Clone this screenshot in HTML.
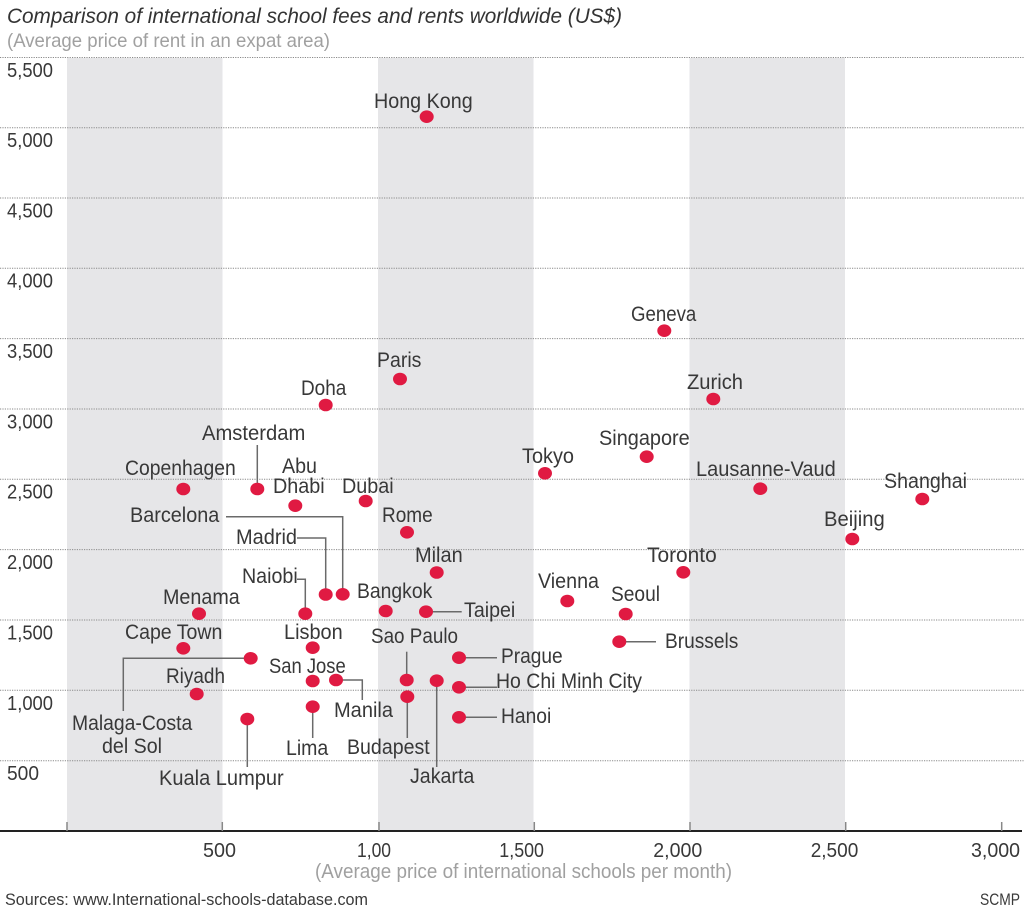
<!DOCTYPE html>
<html>
<head>
<meta charset="utf-8">
<style>
  html,body{margin:0;padding:0;background:#fff;}
  svg{display:block;}
  text{font-family:"Liberation Sans",sans-serif;fill:#383838;}
  .lbl{font-size:21px;}
  .ax{font-size:20.5px;}
  .lead{stroke:#6a6a6a;stroke-width:1.5;fill:none;}
  .dot{fill:#e01a42;}
  .grid{stroke:#8a8a8a;stroke-width:1;stroke-dasharray:1.2,1.2;}
</style>
</head>
<body>
<svg width="1024" height="913" viewBox="0 0 1024 913" xmlns="http://www.w3.org/2000/svg">
  <!-- bands -->
  <rect x="67" y="58" width="155.5" height="773" fill="#e6e6e8"/>
  <rect x="378" y="58" width="155.5" height="773" fill="#e6e6e8"/>
  <rect x="689.5" y="58" width="155.5" height="773" fill="#e6e6e8"/>

  <!-- gridlines -->
  <g class="grid">
    <line x1="0" x2="1024" y1="57.5" y2="57.5"/>
    <line x1="0" x2="1024" y1="127.7" y2="127.7"/>
    <line x1="0" x2="1024" y1="198" y2="198"/>
    <line x1="0" x2="1024" y1="268.3" y2="268.3"/>
    <line x1="0" x2="1024" y1="338.6" y2="338.6"/>
    <line x1="0" x2="1024" y1="409" y2="409"/>
    <line x1="0" x2="1024" y1="479.3" y2="479.3"/>
    <line x1="0" x2="1024" y1="549.6" y2="549.6"/>
    <line x1="0" x2="1024" y1="620" y2="620"/>
    <line x1="0" x2="1024" y1="690.3" y2="690.3"/>
    <line x1="0" x2="1024" y1="760.7" y2="760.7"/>
  </g>

  <!-- y labels -->
  <g class="ax">
    <text x="7" y="77" textLength="46" lengthAdjust="spacingAndGlyphs">5,500</text>
    <text x="7" y="147" textLength="46" lengthAdjust="spacingAndGlyphs">5,000</text>
    <text x="7" y="217.5" textLength="46" lengthAdjust="spacingAndGlyphs">4,500</text>
    <text x="7" y="287.5" textLength="46" lengthAdjust="spacingAndGlyphs">4,000</text>
    <text x="7" y="358" textLength="46" lengthAdjust="spacingAndGlyphs">3,500</text>
    <text x="7" y="428.5" textLength="46" lengthAdjust="spacingAndGlyphs">3,000</text>
    <text x="7" y="498.5" textLength="46" lengthAdjust="spacingAndGlyphs">2,500</text>
    <text x="7" y="569" textLength="46" lengthAdjust="spacingAndGlyphs">2,000</text>
    <text x="7" y="639.5" textLength="46" lengthAdjust="spacingAndGlyphs">1,500</text>
    <text x="7" y="710" textLength="46" lengthAdjust="spacingAndGlyphs">1,000</text>
    <text x="7" y="780" textLength="32" lengthAdjust="spacingAndGlyphs">500</text>
  </g>

  <!-- axis -->
  <line x1="0" x2="1022" y1="831" y2="831" stroke="#222" stroke-width="2"/>
  <g stroke="#888" stroke-width="1.5">
    <line x1="67" x2="67" y1="822" y2="831"/>
    <line x1="222.3" x2="222.3" y1="822" y2="831"/>
    <line x1="379" x2="379" y1="822" y2="831"/>
    <line x1="534.3" x2="534.3" y1="822" y2="831"/>
    <line x1="690" x2="690" y1="822" y2="831"/>
    <line x1="845.7" x2="845.7" y1="822" y2="831"/>
    <line x1="1001.7" x2="1001.7" y1="822" y2="831"/>
  </g>
  <g class="ax">
    <text x="203" y="857" textLength="33" lengthAdjust="spacingAndGlyphs">500</text>
    <text x="357" y="857" textLength="34" lengthAdjust="spacingAndGlyphs">1,00</text>
    <text x="499.3" y="857" textLength="44.7" lengthAdjust="spacingAndGlyphs">1,500</text>
    <text x="653.3" y="857" textLength="49" lengthAdjust="spacingAndGlyphs">2,000</text>
    <text x="810.7" y="857" textLength="47.6" lengthAdjust="spacingAndGlyphs">2,500</text>
    <text x="971" y="857" textLength="49" lengthAdjust="spacingAndGlyphs">3,000</text>
  </g>
  <text x="315" y="878" font-size="20" style="fill:#a0a0a0" textLength="417" lengthAdjust="spacingAndGlyphs">(Average price of international schools per month)</text>

  <!-- title -->
  <text x="7" y="23" font-size="21.5" font-style="italic" style="fill:#333" textLength="615" lengthAdjust="spacingAndGlyphs">Comparison of international school fees and rents worldwide (US$)</text>
  <text x="7" y="47" font-size="19.5" style="fill:#a0a0a0" textLength="323" lengthAdjust="spacingAndGlyphs">(Average price of rent in an expat area)</text>

  <!-- footer -->
  <text x="5" y="905" font-size="17" style="fill:#3a3a3a" textLength="363" lengthAdjust="spacingAndGlyphs">Sources: www.International-schools-database.com</text>
  <text x="980" y="905" font-size="17" style="fill:#3a3a3a" textLength="40" lengthAdjust="spacingAndGlyphs">SCMP</text>

  <!-- leader lines -->
  <g class="lead">
    <path d="M257.3 489 V445"/>
    <path d="M226 516.7 H342.7 V594"/>
    <path d="M297 538 H325.7 V594"/>
    <path d="M297 579.3 H305.3 V613"/>
    <path d="M426 611.7 H461.7"/>
    <path d="M619 641.7 H656"/>
    <path d="M406.7 651.7 V680"/>
    <path d="M459 657.7 H497"/>
    <path d="M250.7 658.3 H123.3 V711"/>
    <path d="M336 680 H362.3 V700"/>
    <path d="M436.7 680.7 V767"/>
    <path d="M459 687.3 H497"/>
    <path d="M407.3 696.7 V738"/>
    <path d="M312.7 706.7 V738"/>
    <path d="M459 717.3 H497"/>
    <path d="M247.3 719 V767"/>
  </g>

  <!-- dots -->
  <g class="dot">
    <ellipse cx="426.7" cy="116.7" rx="7" ry="6.3"/>
    <ellipse cx="664.3" cy="330.7" rx="7" ry="6.3"/>
    <ellipse cx="400" cy="379" rx="7" ry="6.3"/>
    <ellipse cx="713.3" cy="399" rx="7" ry="6.3"/>
    <ellipse cx="325.7" cy="405" rx="7" ry="6.3"/>
    <ellipse cx="646.7" cy="456.7" rx="7" ry="6.3"/>
    <ellipse cx="545" cy="473.3" rx="7" ry="6.3"/>
    <ellipse cx="183.3" cy="489" rx="7" ry="6.3"/>
    <ellipse cx="257.3" cy="489" rx="7" ry="6.3"/>
    <ellipse cx="760.3" cy="488.7" rx="7" ry="6.3"/>
    <ellipse cx="922.3" cy="499" rx="7" ry="6.3"/>
    <ellipse cx="365.7" cy="501" rx="7" ry="6.3"/>
    <ellipse cx="295.3" cy="505.7" rx="7" ry="6.3"/>
    <ellipse cx="407" cy="532.3" rx="7" ry="6.3"/>
    <ellipse cx="852.3" cy="539" rx="7" ry="6.3"/>
    <ellipse cx="436.7" cy="572.5" rx="7" ry="6.3"/>
    <ellipse cx="683.3" cy="572.3" rx="7" ry="6.3"/>
    <ellipse cx="325.7" cy="594.5" rx="7" ry="6.3"/>
    <ellipse cx="342.7" cy="594.3" rx="7" ry="6.3"/>
    <ellipse cx="567.3" cy="601" rx="7" ry="6.3"/>
    <ellipse cx="385.7" cy="611" rx="7" ry="6.3"/>
    <ellipse cx="426" cy="611.7" rx="7" ry="6.3"/>
    <ellipse cx="305.3" cy="613.7" rx="7" ry="6.3"/>
    <ellipse cx="199" cy="613.7" rx="7" ry="6.3"/>
    <ellipse cx="625.7" cy="614" rx="7" ry="6.3"/>
    <ellipse cx="619.3" cy="641.7" rx="7" ry="6.3"/>
    <ellipse cx="183.3" cy="648.3" rx="7" ry="6.3"/>
    <ellipse cx="312.7" cy="647.7" rx="7" ry="6.3"/>
    <ellipse cx="459" cy="657.7" rx="7" ry="6.3"/>
    <ellipse cx="250.7" cy="658.3" rx="7" ry="6.3"/>
    <ellipse cx="312.7" cy="681" rx="7" ry="6.3"/>
    <ellipse cx="336" cy="680" rx="7" ry="6.3"/>
    <ellipse cx="406.7" cy="680" rx="7" ry="6.3"/>
    <ellipse cx="436.7" cy="680.7" rx="7" ry="6.3"/>
    <ellipse cx="459" cy="687.3" rx="7" ry="6.3"/>
    <ellipse cx="196.7" cy="694" rx="7" ry="6.3"/>
    <ellipse cx="407.3" cy="696.7" rx="7" ry="6.3"/>
    <ellipse cx="312.7" cy="706.7" rx="7" ry="6.3"/>
    <ellipse cx="459" cy="717.3" rx="7" ry="6.3"/>
    <ellipse cx="247.3" cy="719" rx="7" ry="6.3"/>
  </g>

  <!-- labels -->
  <g class="lbl">
    <text x="374" y="108" textLength="98.7" lengthAdjust="spacingAndGlyphs">Hong Kong</text>
    <text x="631" y="321" textLength="65.3" lengthAdjust="spacingAndGlyphs">Geneva</text>
    <text x="377" y="367" textLength="44.4" lengthAdjust="spacingAndGlyphs">Paris</text>
    <text x="687" y="389" textLength="56" lengthAdjust="spacingAndGlyphs">Zurich</text>
    <text x="301" y="395" textLength="45.3" lengthAdjust="spacingAndGlyphs">Doha</text>
    <text x="202" y="440" textLength="103.3" lengthAdjust="spacingAndGlyphs">Amsterdam</text>
    <text x="599" y="445" textLength="90.7" lengthAdjust="spacingAndGlyphs">Singapore</text>
    <text x="522" y="463" textLength="52" lengthAdjust="spacingAndGlyphs">Tokyo</text>
    <text x="282" y="473" textLength="35" lengthAdjust="spacingAndGlyphs">Abu</text>
    <text x="125" y="475" textLength="110.7" lengthAdjust="spacingAndGlyphs">Copenhagen</text>
    <text x="696" y="476" textLength="139.7" lengthAdjust="spacingAndGlyphs">Lausanne-Vaud</text>
    <text x="884" y="488" textLength="83" lengthAdjust="spacingAndGlyphs">Shanghai</text>
    <text x="273" y="493" textLength="51.7" lengthAdjust="spacingAndGlyphs">Dhabi</text>
    <text x="342" y="493" textLength="51.7" lengthAdjust="spacingAndGlyphs">Dubai</text>
    <text x="130" y="522" textLength="89.3" lengthAdjust="spacingAndGlyphs">Barcelona</text>
    <text x="382" y="522" textLength="50.7" lengthAdjust="spacingAndGlyphs">Rome</text>
    <text x="824" y="526" textLength="60.7" lengthAdjust="spacingAndGlyphs">Beijing</text>
    <text x="236" y="544" textLength="61" lengthAdjust="spacingAndGlyphs">Madrid</text>
    <text x="415" y="562" textLength="47.7" lengthAdjust="spacingAndGlyphs">Milan</text>
    <text x="647" y="562" textLength="69.7" lengthAdjust="spacingAndGlyphs">Toronto</text>
    <text x="242" y="583" textLength="55.7" lengthAdjust="spacingAndGlyphs">Naiobi</text>
    <text x="538" y="588" textLength="61" lengthAdjust="spacingAndGlyphs">Vienna</text>
    <text x="357" y="598" textLength="75.3" lengthAdjust="spacingAndGlyphs">Bangkok</text>
    <text x="611" y="601" textLength="49" lengthAdjust="spacingAndGlyphs">Seoul</text>
    <text x="163" y="604" textLength="76.7" lengthAdjust="spacingAndGlyphs">Menama</text>
    <text x="464" y="617" textLength="51.3" lengthAdjust="spacingAndGlyphs">Taipei</text>
    <text x="125" y="639" textLength="97.3" lengthAdjust="spacingAndGlyphs">Cape Town</text>
    <text x="284" y="639" textLength="58.7" lengthAdjust="spacingAndGlyphs">Lisbon</text>
    <text x="371" y="643" textLength="87" lengthAdjust="spacingAndGlyphs">Sao Paulo</text>
    <text x="665" y="648" textLength="73.3" lengthAdjust="spacingAndGlyphs">Brussels</text>
    <text x="501" y="663" textLength="61.7" lengthAdjust="spacingAndGlyphs">Prague</text>
    <text x="269" y="673" textLength="76.7" lengthAdjust="spacingAndGlyphs">San Jose</text>
    <text x="166" y="683" textLength="59" lengthAdjust="spacingAndGlyphs">Riyadh</text>
    <text x="496" y="688" textLength="146" lengthAdjust="spacingAndGlyphs">Ho Chi Minh City</text>
    <text x="334" y="717" textLength="59" lengthAdjust="spacingAndGlyphs">Manila</text>
    <text x="501" y="723" textLength="50.3" lengthAdjust="spacingAndGlyphs">Hanoi</text>
    <text x="72" y="730" textLength="120.3" lengthAdjust="spacingAndGlyphs">Malaga-Costa</text>
    <text x="347" y="754" textLength="82.7" lengthAdjust="spacingAndGlyphs">Budapest</text>
    <text x="102" y="753" textLength="60" lengthAdjust="spacingAndGlyphs">del Sol</text>
    <text x="286" y="755" textLength="42.3" lengthAdjust="spacingAndGlyphs">Lima</text>
    <text x="410" y="783" textLength="64.3" lengthAdjust="spacingAndGlyphs">Jakarta</text>
    <text x="159" y="785" textLength="124.7" lengthAdjust="spacingAndGlyphs">Kuala Lumpur</text>
  </g>
</svg>
</body>
</html>
